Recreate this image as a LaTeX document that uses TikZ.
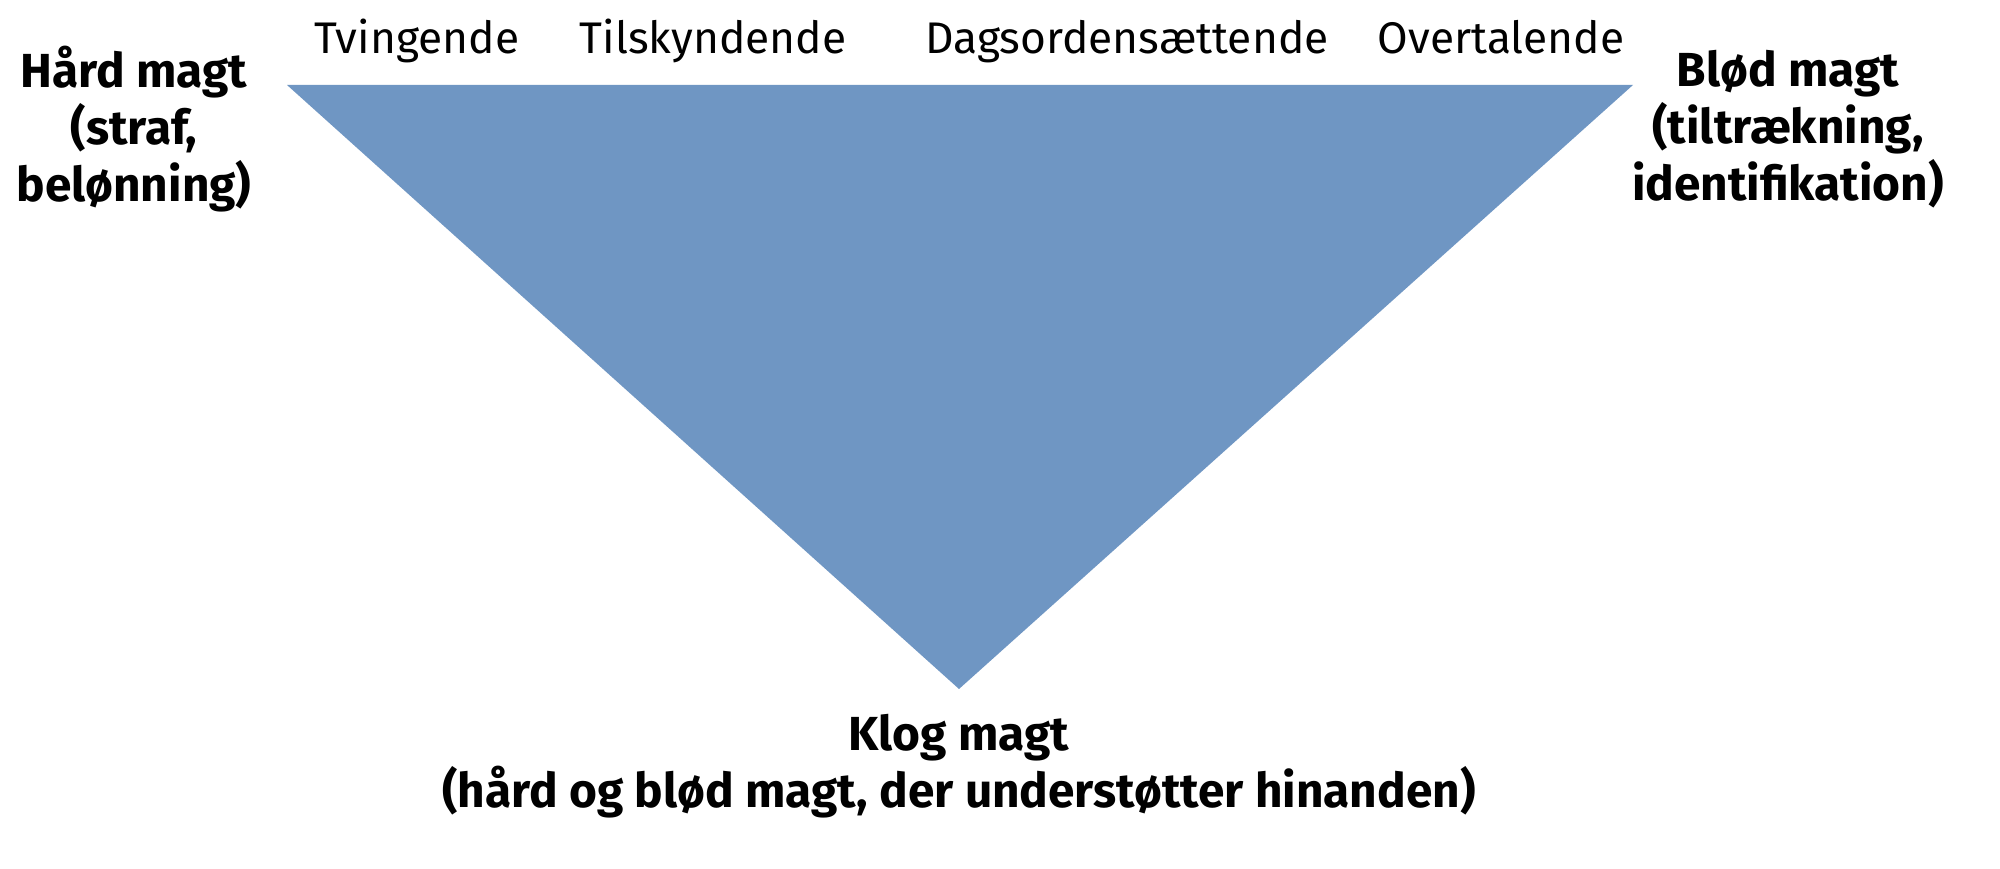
\documentclass[tikz,border=0pt]{standalone}
\usepackage{fontspec}
\setmainfont{Fira Sans}
\usepackage{tikz}
\usetikzlibrary{positioning}
\definecolor{magtblue}{RGB}{111,150,195}
\tikzset{%
	typelabel/.style = {font=\fontsize{12.6}{14}\selectfont, inner sep=0pt, anchor=base}, % top labels
	magt/.style      = {font=\bfseries\fontsize{13.6}{16.2}\selectfont, align=center, inner sep=0pt}, % power type
	corner/.style    = {coordinate},
}
\begin{document}
\begin{tikzpicture}
	\useasboundingbox (0,0) rectangle (20,8.69);
	\coordinate (hard) at (2.87,7.84);
	\coordinate (soft) at (16.33,7.84);
	\coordinate (smart) at (9.59,1.80);
	\fill[magtblue] (hard) -- (soft) -- (smart) -- cycle;
	
	\node [typelabel] (tving) at (4.17,8.15) {Tvingende};
	\node [typelabel] (tilsk) at (7.13,8.15) {Tilskyndende};
	\node [typelabel] (dags) at (11.27,8.15) {Dagsordensættende};
	\node [typelabel] (over) at (15.01,8.15) {Overtalende};
	
	\node [magt] (hardlbl) at (1.34,7.40) {Hård magt\\(straf,\\belønning)};
	\node [magt] (softlbl) at (17.88,7.40) {Blød magt\\(tiltrækning,\\identifikation)};
	\node [magt] (smartlbl) at (9.59,1.03) {Klog magt\\(hård og blød magt, der understøtter hinanden)};
\end{tikzpicture}
\end{document}
